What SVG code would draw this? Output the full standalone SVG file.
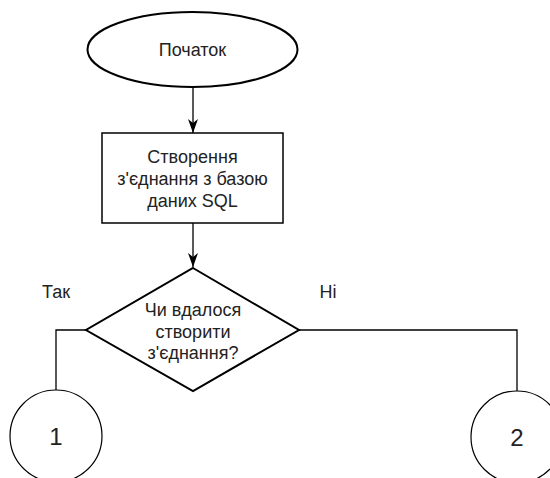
<svg xmlns="http://www.w3.org/2000/svg" width="550" height="478" viewBox="0 0 550 478">
<style>
.sh{fill:#fff;stroke:#000}
.t{font-family:"Liberation Sans",Arial,sans-serif;font-size:18px;fill:#222;text-anchor:middle}
.big{font-size:24px}
.c{fill:none;stroke:#000;stroke-width:1.3}
</style>
<defs>
<marker id="arr" markerUnits="userSpaceOnUse" markerWidth="14" markerHeight="10" viewBox="0 0 14 10" refX="14" refY="5" orient="auto">
<path d="M0,0 L14,5 L0,10 L4,5 Z" fill="#000"/>
</marker>
</defs>
<rect width="550" height="478" fill="#fff"/>
<g id="connectors">
<line class="c" x1="193" y1="87" x2="193" y2="133" marker-end="url(#arr)"/>
<line class="c" x1="193" y1="223" x2="193" y2="267" marker-end="url(#arr)"/>
<polyline class="c" points="86,330 56,330 56,390"/>
<polyline class="c" points="299,330 517,330 517,391"/>
</g>
<g id="start">
<ellipse class="sh" cx="192.5" cy="49.5" rx="105" ry="37.5" stroke-width="2"/>
<text class="t" x="192.5" y="55.5">Початок</text>
</g>
<g id="process">
<rect class="sh" x="102" y="133" width="181" height="90" stroke-width="1.5"/>
<text class="t" x="192.5" y="163">Створення</text>
<text class="t" x="192.5" y="184.5">з'єднання з базою</text>
<text class="t" x="192.5" y="207">даних SQL</text>
</g>
<g id="decision">
<polygon class="sh" points="193,268 299,330 193,391 86,330" stroke-width="2"/>
<text class="t" x="193" y="316">Чи вдалося</text>
<text class="t" x="193" y="338">створити</text>
<text class="t" x="193" y="359">з'єднання?</text>
</g>
<g id="label-yes"><text class="t" x="56" y="298">Так</text></g>
<g id="label-no"><text class="t" x="328" y="298">Ні</text></g>
<g id="conn1">
<circle class="sh" cx="56" cy="436" r="46" stroke-width="1.2"/>
<text class="t big" x="56" y="444.5">1</text>
</g>
<g id="conn2">
<circle class="sh" cx="517" cy="437" r="46" stroke-width="1.2"/>
<text class="t big" x="517" y="445.5">2</text>
</g>
</svg>
